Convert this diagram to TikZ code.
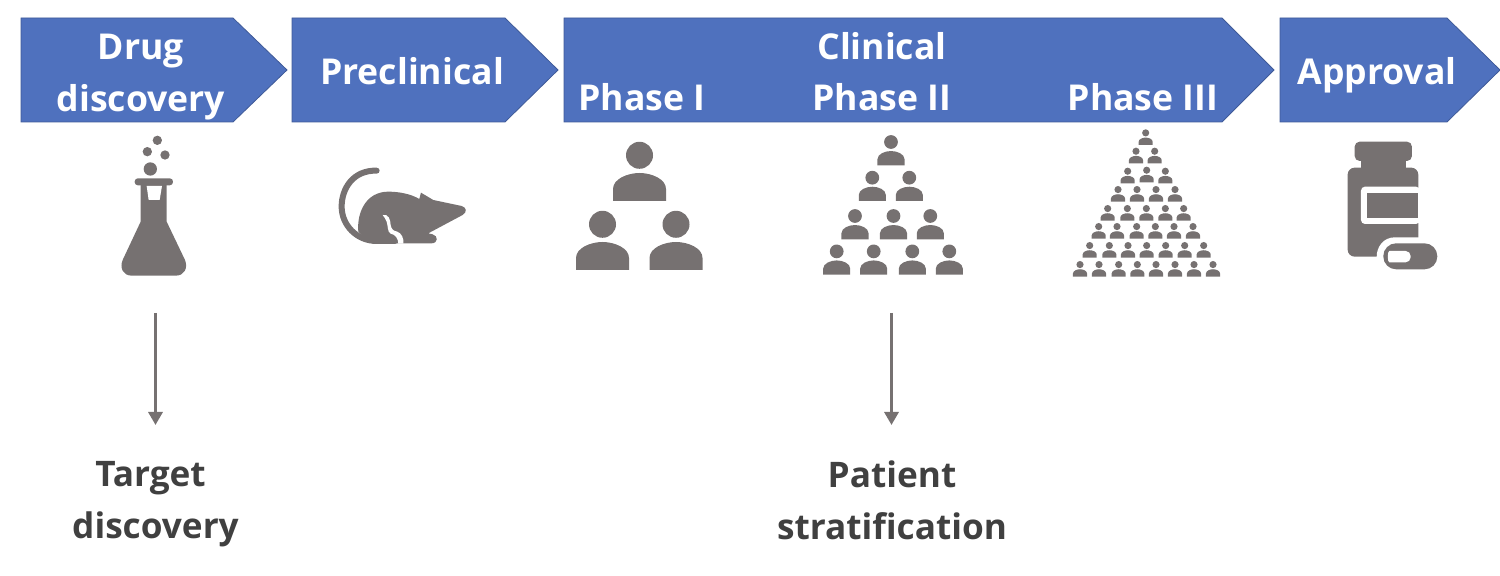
\documentclass[tikz,border=0pt]{standalone}
\usepackage{fontspec}
\setmainfont{Open Sans}
\usetikzlibrary{arrows.meta}
\definecolor{stageblue}{RGB}{79,113,190}
\definecolor{icongrey}{RGB}{118,113,113}
\definecolor{labelgrey}{RGB}{64,64,64}
\tikzset{
  stagearrow/.style={fill=stageblue,draw=stageblue!80!black,line width=0.4pt},
  stagelabel/.style={text=white,font=\fontsize{17.8}{26}\selectfont\bfseries,inner sep=0pt,align=center},
  outcomelabel/.style={text=labelgrey,font=\fontsize{17.6}{26}\selectfont\bfseries,inner sep=0pt,align=center},
  downarrow/.style={draw=icongrey,line width=1.6pt,-{Triangle[length=6.5pt,width=7pt]}},
  iconfill/.style={fill=icongrey,draw=none},
  iconcut/.style={fill=white,draw=none},
}
\newcommand{\person}[3]{
  \begin{scope}[shift={(#1,#2)},scale=#3]
    \fill[iconfill] (0,-45.7) circle (13.5);
    \fill[iconfill] (-26.5,0) -- (-26.5,-12) .. controls (-26.5,-22) and (-12,-28) .. (0,-28) .. controls (12,-28) and (26.5,-22) .. (26.5,-12) -- (26.5,0) -- cycle;
  \end{scope}
}
\begin{document}
\begin{tikzpicture}[x=0.5pt,y=0.5pt,yscale=-1,xscale=1]
\useasboundingbox (0,0) rectangle (1500,576);
% stage arrows
\draw [stagearrow] (21,18) -- (233,18) -- (287,70) -- (233,122) -- (21,122) -- cycle;
\draw [stagearrow] (292,18) -- (505,18) -- (558,70) -- (505,122) -- (292,122) -- cycle;
\draw [stagearrow] (564,18) -- (1222,18) -- (1274,70) -- (1222,122) -- (564,122) -- cycle;
\draw [stagearrow] (1280,18) -- (1447,18) -- (1500,70) -- (1447,122) -- (1280,122) -- cycle;
\node (drug) [stagelabel] at (141,77) {Drug\\discovery};
\node (preclinical) [stagelabel] at (412,71) {Preclinical};
\node (clinical) [stagelabel] at (882,46) {Clinical};
\node (phaseone) [stagelabel] at (642,97) {Phase I};
\node (phasetwo) [stagelabel] at (882,97) {Phase II};
\node (phasethree) [stagelabel] at (1143,97) {Phase III};
\node (approval) [stagelabel] at (1377,75) {Approval};
% flask
\begin{scope}[shift={(100,125)},scale=0.3333]
  \fill[iconfill] (172,46) circle (14);
  \fill[iconfill] (142,80) circle (14);
  \fill[iconfill] (195,90) circle (14);
  \fill[iconfill] (151,132) circle (20);
  \fill[iconfill,rounded corners=1.6pt] (104,160) rectangle (219,181);
  \fill[iconfill] (122,175) -- (122,290) -- (68,405) .. controls (58,430) and (70,452) .. (95,452) -- (228,452) .. controls (252,452) and (265,430) .. (255,405) -- (200,290) -- (200,175) -- cycle;
  \fill[iconcut] (140,183) -- (186,183) -- (179,225) -- (146,225) -- cycle;
\end{scope}
% mouse
\begin{scope}[shift={(100,125)},scale=0.3333]
  \draw[icongrey,line width=3pt,line cap=round] (830,137) .. controls (760,135) and (725,190) .. (725,245) .. controls (725,300) and (770,348) .. (830,348) -- (885,348);
  \fill[iconfill] (775,320) .. controls (770,260) and (800,200) .. (865,200) .. controls (900,200) and (935,208) .. (958,222) -- (963,203) -- (1000,225) -- (1085,243) .. controls (1100,247) and (1102,262) .. (1088,270) -- (985,325) -- (998,328) .. controls (1015,332) and (1015,355) .. (995,355) -- (915,355) -- (890,355) -- (800,345) -- cycle;
  \fill[iconcut] (848,270) .. controls (865,265) and (872,285) .. (872,300) .. controls (874,312) and (880,318) .. (892,320) .. controls (905,325) and (912,340) .. (910,356) -- (895,356) .. controls (895,340) and (885,328) .. (872,326) .. controls (862,322) and (864,300) .. (860,290) .. controls (858,282) and (852,276) .. (848,270) -- cycle;
\end{scope}
% phase I people
\person{639.5}{201}{1}
\person{602.5}{270}{1}
\person{676}{270}{1}
% phase II people
\foreach \cx/\by in {891/165.3,872.3/201,909.3/201,855/239.3,893.5/239.3,930.3/239.3,836.7/274.7,873.7/274.7,912.3/274.7,949.3/274.7} {
  \person{\cx}{\by}{0.51}
}
% phase III people
\foreach \cz/\bz in {257/60,228/115,284/115,203/175,260/172,316/175,174/230,231/230,288/230,345/230,143/287,202/287,259/287,316/287,371/287,116/341,171/341,230/341,286/341,342/341,399/341,89/398,148/398,204/398,260/398,317/398,374/398,431/398,60/455,117/455,176/455,232/455,288/455,345/455,402/455,459/455} {
  \person{1060+\cz/3}{125+\bz/3}{0.265}
}
% bottle and pill
\begin{scope}[shift={(1060,125)},scale=0.3333]
  \fill[iconfill,rounded corners=2.5pt] (884,50) rectangle (1056,108);
  \fill[iconfill] (903,100) rectangle (1037,135);
  \fill[iconfill,rounded corners=3.5pt] (863,128) -- (1075,128) -- (1075,395) -- (863,395) -- cycle;
  \fill[iconcut,rounded corners=2pt] (1080,185) -- (903,185) -- (903,297) -- (1080,297) -- cycle;
  \fill[iconfill] (922,204) rectangle (1075,280);
  \fill[iconcut] (1090,337) -- (1005,337) .. controls (970,337) and (950,365) .. (950,397) -- (950,450) -- (1150,450) -- (1150,337) -- cycle;
  \fill[iconfill,rounded corners=6.4pt] (970,355) rectangle (1132,433);
  \fill[iconcut,rounded corners=2.5pt] (1052,378) -- (1003,378) .. controls (982,378) and (982,412) .. (1003,412) -- (1052,412) -- cycle;
\end{scope}
% lower arrows and labels
\coordinate (targetstart) at (155.5,313);
\coordinate (targetend) at (155.5,425);
\coordinate (patientstart) at (891.5,313);
\coordinate (patientend) at (891.5,425);
\draw [downarrow] (targetstart) -- (targetend);
\draw [downarrow] (patientstart) -- (patientend);
\node (target) [outcomelabel] at (155.5,504) {Target\hspace*{5pt}\\discovery};
\node (patient) [outcomelabel] at (892,500) {Patient\\stratification};
\end{tikzpicture}
\end{document}
